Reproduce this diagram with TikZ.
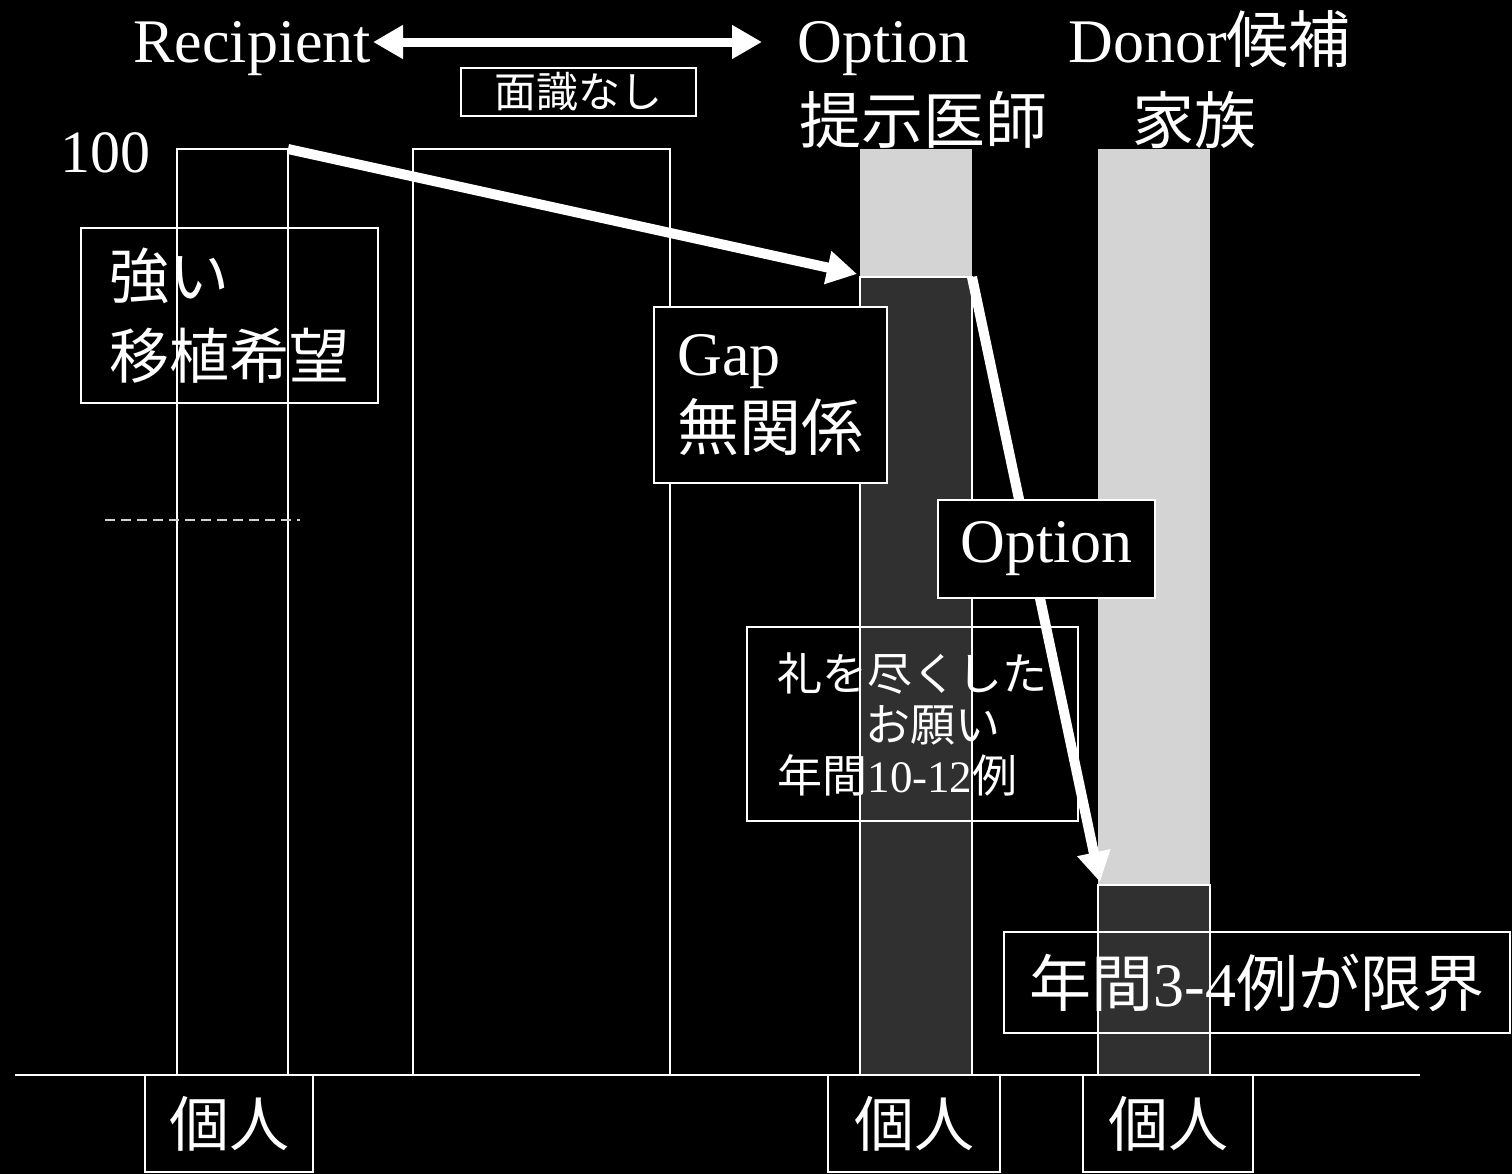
\documentclass[tikz,border=0pt]{standalone}
\usepackage{fontspec}
\setmainfont{Liberation Serif}
\newfontfamily\jp{Noto Sans CJK JP}
\usetikzlibrary{arrows.meta}
\definecolor{lightbar}{HTML}{D4D4D4}
\definecolor{darkbar}{HTML}{303030}
\begin{document}
\begin{tikzpicture}[x=0.5pt,y=-0.5pt,
  outl/.style={draw=white,line width=1pt},
  txt/.style={text=white,inner sep=0pt},
  tbox/.style={draw=white,line width=1pt,text=white,inner sep=0pt},
  fbox/.style={tbox,fill=black},
  bigarrow/.style={white,line width=5pt,-{Triangle[length=15pt,width=16pt]}},
  dblarrow/.style={white,line width=4.5pt,{Triangle[length=15pt,width=16pt]}-{Triangle[length=15pt,width=16pt]}},
  lat/.style={font=\fontsize{31}{36}\selectfont},
  cjk/.style={font=\jp\fontsize{30}{36}\selectfont}
]
\fill[black] (0,0) rectangle (1512,1174);
\useasboundingbox (0,0) rectangle (1512,1174);

% bars
\fill[lightbar] (860,149) rectangle (972,277);
\fill[darkbar] (860,277) rectangle (972,1075);
\draw[outl] (860,277) rectangle (972,1075);
\fill[lightbar] (1098,149) rectangle (1210,885);
\fill[darkbar] (1098,885) rectangle (1210,1075);
\draw[outl] (1098,885) rectangle (1210,1075);

% outline rectangles
\draw[outl] (177,149) rectangle (288,1075);
\draw[outl] (413,149) rectangle (670,1075);

% faint dotted line
\draw[gray!35,line width=0.6pt,dash pattern=on 5pt off 3pt] (105,520) -- (300,520);

% baseline
\draw[white,line width=1.2pt] (15,1075) -- (1420,1075);

% headings
\node[txt,lat,anchor=base west] (rec) at (133,62) {Recipient};
\node[txt,lat,anchor=base west] (opt) at (797,62) {Option};
\node[txt,lat,anchor=base west] (don) at (1068,62) {Donor{\jp 候補}};
\node[txt,font=\jp\fontsize{31}{36}\selectfont] (doc) at (923,120) {提示医師};
\node[txt,font=\jp\fontsize{31}{36}\selectfont] (fam) at (1194,120) {家族};
\node[txt,font=\fontsize{30}{36}\selectfont,anchor=base west] (hund) at (60,172) {100};

\coordinate (dl) at (373,42);
\coordinate (dr) at (762,42);
\draw[dblarrow] (dl) -- (dr);
\node[tbox,font=\jp\fontsize{21}{24}\selectfont,minimum width=117.5pt,minimum height=24pt] (meet) at (578.5,92) {面識なし};

% boxes under arrows
\node[tbox,align=left,font=\jp\fontsize{30}{40}\selectfont,minimum width=148.5pt,minimum height=87.5pt] (wish) at (229.5,315.5) {強い\\移植希望};
\node[tbox,align=left,font=\jp\fontsize{22.5}{25.5}\selectfont,minimum width=165.5pt,minimum height=97pt] (rei) at (912.5,724) {礼を尽くした\\\hspace*{44pt}お願い\\年間{\rmfamily 10-12}例};
\node[tbox,font=\jp\fontsize{31}{36}\selectfont,minimum width=253pt,minimum height=50.5pt] (limit) at (1257,982.5) {年間{\rmfamily 3-4}例が限界};

% arrows
\coordinate (a1s) at (288,149);
\coordinate (a1e) at (857,274);
\draw[bigarrow] (a1s) -- (a1e);
\coordinate (a2s) at (972,277);
\coordinate (a2e) at (1100,882);
\draw[bigarrow] (a2s) -- (a2e);

% filled boxes
\node[fbox,align=left,font=\fontsize{31}{37.5}\selectfont,minimum width=116.5pt,minimum height=88pt] (gap) at (770.5,395) {Gap\\{\jp 無関係}};
\node[fbox,lat,minimum width=108.5pt,minimum height=49pt] (optbox) at (1046.5,549) {Option};

% bottom boxes
\node[tbox,cjk,minimum width=84pt,minimum height=48.5pt] (ind1) at (229,1123.5) {個人};
\node[tbox,cjk,minimum width=86pt,minimum height=48.5pt] (ind2) at (914,1123.5) {個人};
\node[tbox,cjk,minimum width=85pt,minimum height=48.5pt] (ind3) at (1168,1123.5) {個人};
\end{tikzpicture}
\end{document}
